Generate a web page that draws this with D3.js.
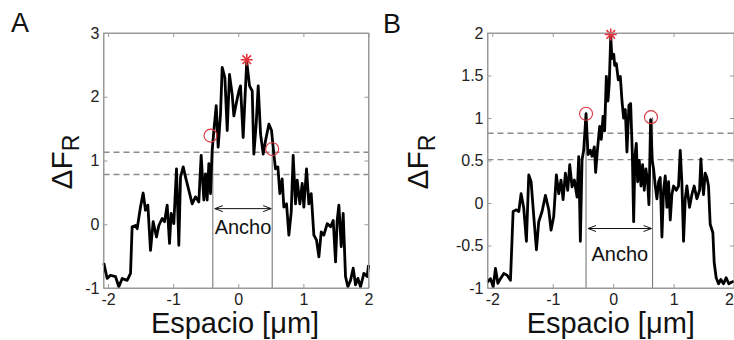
<!DOCTYPE html>
<html><head><meta charset="utf-8">
<script src="https://cdn.jsdelivr.net/npm/d3@7"></script>
<style>body{margin:0;background:#fff;overflow:hidden}</style>
</head><body><svg id="c" width="734" height="340"></svg>
<script>
// ---------- DATA ----------
const xTicks = [-2, -1, 0, 1, 2];
const yTicksA = [-1, 0, 1, 2, 3];
const yTicksB = [-1, -0.5, 0, 0.5, 1, 1.5, 2];

const xA = [-2.065,-2.014,-1.963,-1.886,-1.835,-1.783,-1.707,-1.655,-1.63,-1.579,-1.553,-1.502,-1.461,-1.425,-1.389,-1.348,-1.307,-1.256,-1.22,-1.169,-1.133,-1.092,-1.056,-1.031,-0.99,-0.949,-0.913,-0.887,-0.846,-0.81,-0.759,-0.708,-0.657,-0.606,-0.57,-0.529,-0.503,-0.478,-0.452,-0.426,-0.401,-0.375,-0.339,-0.309,-0.273,-0.247,-0.206,-0.17,-0.135,-0.094,-0.068,-0.032,0.009,0.034,0.075,0.105,0.13,0.173,0.214,0.239,0.275,0.306,0.342,0.383,0.418,0.47,0.511,0.546,0.572,0.608,0.639,0.674,0.70,0.741,0.777,0.813,0.843,0.879,0.905,0.946,0.982,1.007,1.048,1.084,1.12,1.161,1.202,1.238,1.274,1.314,1.366,1.417,1.458,1.494,1.519,1.545,1.581,1.611,1.647,1.683,1.724,1.765,1.801,1.837,1.878,1.929,1.98,2.0];
const yA = [-0.61,-0.85,-0.80,-0.82,-0.98,-0.85,-0.88,-0.77,-0.04,-0.02,-0.07,0.27,0.49,0.22,0.30,-0.41,0.04,-0.20,-0.02,0.09,0.04,0.30,-0.30,0.17,0.01,0.87,-0.33,0.74,0.90,0.74,0.53,0.32,0.43,0.35,1.08,0.38,0.79,0.38,0.95,0.48,1.16,1.47,1.86,1.21,1.73,2.46,2.30,1.47,2.35,2.04,1.70,1.89,2.09,2.17,1.36,2.02,2.55,2.17,2.09,1.10,1.57,2.17,1.42,1.10,1.31,1.57,1.47,1.10,0.87,0.90,0.48,0.71,0.27,0.32,-0.17,0.19,1.08,0.32,0.69,0.32,0.64,0.27,0.87,0.32,0.48,-0.17,-0.25,-0.51,-0.12,-0.17,0.01,-0.04,0.06,-0.59,0.06,0.30,-0.35,0.17,-0.82,-0.98,-0.88,-0.69,-0.95,-0.85,-0.98,-0.77,-0.82,-0.64];

const xB = [-2.08,-2.031,-1.986,-1.948,-1.909,-1.865,-1.81,-1.755,-1.70,-1.656,-1.601,-1.562,-1.524,-1.48,-1.436,-1.397,-1.358,-1.314,-1.27,-1.232,-1.177,-1.121,-1.066,-1.028,-0.984,-0.94,-0.901,-0.863,-0.829,-0.791,-0.752,-0.719,-0.681,-0.642,-0.598,-0.57,-0.543,-0.515,-0.488,-0.449,-0.416,-0.378,-0.35,-0.312,-0.29,-0.256,-0.223,-0.196,-0.168,-0.141,-0.113,-0.086,-0.065,-0.04,-0.02,0.01,0.025,0.052,0.085,0.118,0.146,0.173,0.201,0.228,0.261,0.289,0.317,0.339,0.361,0.383,0.405,0.432,0.46,0.487,0.515,0.542,0.57,0.592,0.62,0.647,0.669,0.697,0.724,0.752,0.779,0.807,0.834,0.862,0.89,0.917,0.945,0.972,1.0,1.044,1.082,1.11,1.137,1.165,1.193,1.22,1.264,1.303,1.341,1.385,1.43,1.452,1.474,1.496,1.523,1.551,1.578,1.606,1.65,1.672,1.705,1.744,1.782,1.826,1.87,1.914,1.964,2.0];
const yB = [-0.93,-0.89,-0.985,-0.77,-0.945,-0.89,-0.83,-0.85,-0.91,-0.10,-0.08,-0.10,0.11,-0.06,-0.45,0.33,0.25,-0.16,-0.55,-0.22,-0.10,0.09,-0.08,-0.32,-0.16,0.33,0.11,0.27,0.04,0.35,0.15,0.45,0.19,0.27,0.07,0.545,-0.45,0.51,0.62,1.05,0.57,0.62,0.55,0.66,0.36,0.66,0.90,0.75,1.02,0.85,1.49,1.20,1.40,1.96,1.70,1.75,1.62,1.64,1.45,1.49,1.20,1.00,1.10,0.60,1.15,1.17,0.58,-0.22,0.55,0.70,0.25,0.50,0.20,0.45,0.15,0.40,0.25,-0.02,0.98,0.50,0.40,0.20,0.05,0.25,0.30,-0.40,0.15,0.32,-0.05,0.25,-0.20,0.10,0.20,0.15,0.20,0.62,0.25,-0.45,0.05,0.20,-0.05,0.10,0.20,0.05,0.15,0.52,0.25,0.10,0.35,0.30,0.20,-0.25,-0.35,-0.70,-0.88,-0.95,-0.90,-0.95,-0.88,-0.95,-0.93,-0.92];

const peakA = [0.13, 2.55];
const circlesXA = [-0.426, 0.521];
const circlesYA = [1.39, 1.18];
const levelsA = [1.13, 0.78];
const edgesA = [-0.391, 0.521];
const arrowYA = 0.245;

const peakB = [-0.04, 1.96];
const circlesXB = [-0.449, 0.626];
const circlesYB = [1.05, 1.01];
const levelsB = [0.82, 0.51];
const edgesB = [-0.449, 0.652];
const arrowYB = -0.30;

const panelLabels = ["A", "B"];
const xTitle = "Espacio [\u03bcm]";
const yTitle = "\u0394F";
const ySub = "R";
const widthLabel = "Ancho";

// ---------- DRAW ----------
const svg = d3.select("#c");
const FONT = "'Liberation Sans', Arial, sans-serif";
const FRAME = "#9a9a9a";
const W = 734;

function panel(cfg) {
  const x = d3.scaleLinear().domain(cfg.xDom).range(cfg.xRange);
  const y = d3.scaleLinear().domain(cfg.yDom).range([288, 33]);
  const g = svg.append("g");
  const [x0, x1] = cfg.xRange, y0 = y(cfg.yDom[0]), y1 = y(cfg.yDom[1]);

  // dashed threshold lines
  g.selectAll("line.lvl").data(cfg.levels).join("line")
    .attr("x1", x0).attr("x2", x1).attr("y1", d => y(d)).attr("y2", d => y(d))
    .attr("stroke", "#8c8c8c").attr("stroke-width", 1.4).attr("stroke-dasharray", "6,4");

  // vertical width lines
  g.selectAll("line.edge").data(cfg.edges).join("line")
    .attr("x1", d => x(d)).attr("x2", d => x(d))
    .attr("y1", y0).attr("y2", (d, i) => y(cfg.cy[i]))
    .attr("stroke", "#7a7a7a").attr("stroke-width", 1.1);

  // axes
  const style = sel => {
    sel.select(".domain").attr("stroke", FRAME);
    sel.selectAll(".tick line").attr("stroke", FRAME);
    sel.selectAll("text").attr("font-family", FONT).attr("font-size", 16).attr("fill", "#222");
  };
  const bx = g.append("g").attr("transform", `translate(0,${y0})`)
    .call(d3.axisBottom(x).tickValues(xTicks).tickSizeInner(-4).tickSizeOuter(0).tickPadding(6).tickFormat(d => String(d)))
    .call(style);
  // keep labels that would fall on the page edge inside it
  bx.selectAll(".tick").each(function(d) {
    if (x(d) + 6 > W) d3.select(this).select("text").attr("text-anchor", "end").attr("x", W - x(d) - 0.5);
  });
  g.append("g").attr("transform", `translate(0,${y1})`)
    .call(d3.axisTop(x).tickValues(xTicks).tickSizeInner(-4).tickSizeOuter(0).tickFormat(""))
    .call(style);
  g.append("g").attr("transform", `translate(${x0},0)`)
    .call(d3.axisLeft(y).tickValues(cfg.yTicks).tickSizeInner(-4).tickSizeOuter(0).tickPadding(4).tickFormat(d => String(d)))
    .call(style);
  g.append("g").attr("transform", `translate(${x1},0)`)
    .call(d3.axisRight(y).tickValues(cfg.yTicks).tickSizeInner(-4).tickSizeOuter(0).tickFormat(""))
    .call(style);

  // curve
  const pts = cfg.xs.map((v, i) => [v, cfg.ys[i]]);
  g.append("path").datum(pts)
    .attr("d", d3.line().x(d => x(d[0])).y(d => y(d[1])))
    .attr("fill", "none").attr("stroke", "#000").attr("stroke-width", 2.8)
    .attr("stroke-linejoin", "round");

  // circles
  g.selectAll("circle.m").data(cfg.cx).join("circle")
    .attr("cx", d => x(d)).attr("cy", (d, i) => y(cfg.cy[i])).attr("r", 6.5)
    .attr("fill", "none").attr("stroke", "#d9363e").attr("stroke-width", 1.1);

  // star
  const sx = x(cfg.peak[0]), sy = y(cfg.peak[1]) - 2, s = 6, d = s * 0.72;
  g.append("path")
    .attr("d", `M${sx - s},${sy}H${sx + s}M${sx},${sy - s}V${sy + s}M${sx - d},${sy - d}L${sx + d},${sy + d}M${sx - d},${sy + d}L${sx + d},${sy - d}`)
    .attr("stroke", "#e8323c").attr("stroke-width", 1.6).attr("fill", "none");

  // arrow
  const ax0 = x(cfg.edges[0]) + 2, ax1 = x(cfg.edges[1]) - 1, ay = y(cfg.arrowY);
  g.append("path")
    .attr("d", `M${ax0},${ay}H${ax1}M${ax0 + 8},${ay - 3}L${ax0},${ay}L${ax0 + 8},${ay + 3}M${ax1 - 8},${ay - 3}L${ax1},${ay}L${ax1 - 8},${ay + 3}`)
    .attr("stroke", "#111").attr("stroke-width", 1).attr("fill", "none");
  g.append("text").attr("x", (ax0 + ax1) / 2).attr("y", ay + cfg.textDy)
    .attr("text-anchor", "middle").attr("font-family", FONT).attr("font-size", 20).attr("fill", "#111")
    .text(widthLabel);

  // frame
  g.append("rect").attr("x", x0).attr("y", y1).attr("width", x1 - x0).attr("height", y0 - y1)
    .attr("fill", "none").attr("stroke", FRAME).attr("stroke-width", 1);

  // titles
  g.append("text").attr("x", (x0 + Math.min(x1, W)) / 2 + cfg.xtShift).attr("y", 333)
    .attr("text-anchor", "middle").attr("font-family", FONT).attr("font-size", 29).attr("fill", "#111")
    .text(xTitle);
  const yt = g.append("text").attr("transform", `translate(${cfg.ytX},162) rotate(-90)`)
    .attr("text-anchor", "middle").attr("font-family", FONT).attr("font-size", 30).attr("fill", "#111");
  yt.append("tspan").text(yTitle);
  yt.append("tspan").attr("dy", 7).attr("font-size", 23).text(ySub);
  g.append("text").attr("x", cfg.lab[0]).attr("y", cfg.lab[1])
    .attr("font-family", FONT).attr("font-size", 27).attr("fill", "#111").text(cfg.label);
}

panel({xDom: [-2.07, 2.0], xRange: [103.5, 368.5], yDom: [-1, 3], yTicks: yTicksA,
  xs: xA, ys: yA, peak: peakA, cx: circlesXA, cy: circlesYA, levels: levelsA, edges: edgesA,
  arrowY: arrowYA, textDy: 25, label: panelLabels[0], lab: [11, 32], ytX: 72, xtShift: -1});
panel({xDom: [-2.08, 2.0], xRange: [487.5, 734], yDom: [-1, 2], yTicks: yTicksB,
  xs: xB, ys: yB, peak: peakB, cx: circlesXB, cy: circlesYB, levels: levelsB, edges: edgesB,
  arrowY: arrowYB, textDy: 32, label: panelLabels[1], lab: [383, 33], ytX: 428, xtShift: 0});
</script></body></html>
